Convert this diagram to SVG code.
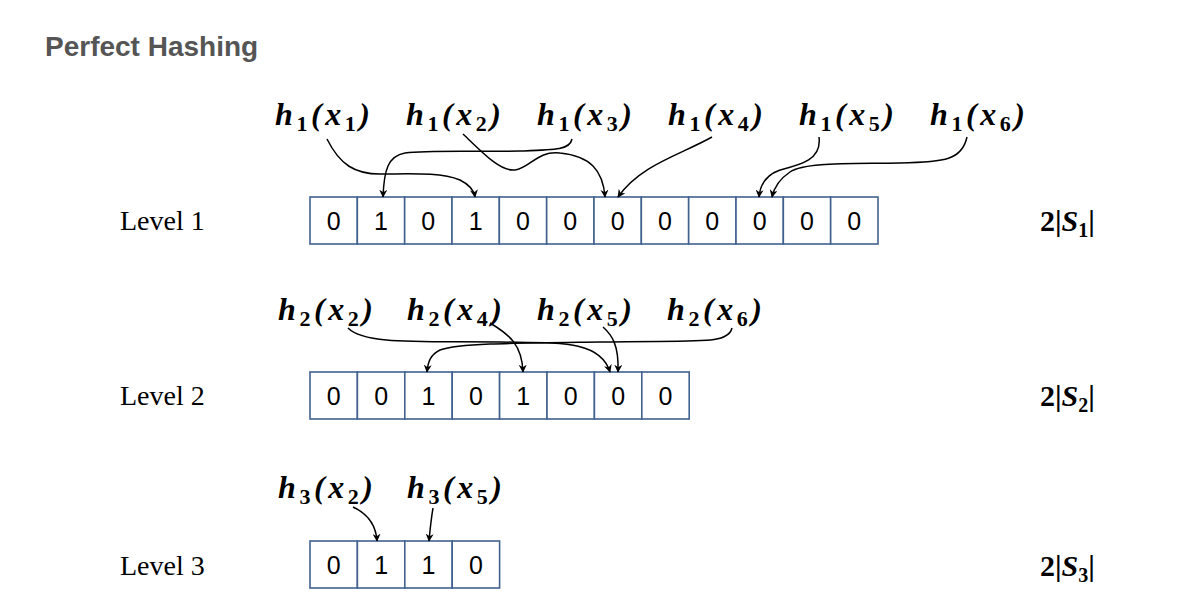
<svg xmlns="http://www.w3.org/2000/svg" width="1200" height="616" viewBox="0 0 1200 616">
<defs>
<marker id="ah" viewBox="0 0 10 10" refX="9" refY="5" markerWidth="8" markerHeight="8" orient="auto" markerUnits="userSpaceOnUse"><path d="M0,0 L10,5 L0,10 L3,5 z" fill="#000"/></marker>
<style>
.cell{fill:#fff;stroke:#41628F;stroke-width:1.6}
.d{font-family:"Liberation Sans",Arial,sans-serif;font-size:25px;text-anchor:middle;fill:#000}
.m{font-family:"Liberation Serif","DejaVu Serif",serif;font-size:32px;font-weight:bold;font-style:italic;fill:#000}
.s{font-size:22px;font-style:normal}
.lv{font-family:"Liberation Serif",serif;font-size:28px;fill:#000}
.sz{font-family:"Liberation Serif",serif;font-size:30px;font-weight:bold;fill:#000}
.c{fill:none;stroke:#000;stroke-width:1.5;marker-end:url(#ah)}
</style>
</defs>
<rect width="1200" height="616" fill="#fff"/>
<text x="45" y="56" font-family="Liberation Sans,Arial,sans-serif" font-size="28" font-weight="bold" fill="#555">Perfect Hashing</text>

<g id="level1">
<text class="lv" x="120" y="230">Level 1</text>
<g id="array1">
<rect class="cell" x="310" y="197" width="47.33" height="47"/><rect class="cell" x="357.33" y="197" width="47.33" height="47"/><rect class="cell" x="404.67" y="197" width="47.33" height="47"/><rect class="cell" x="452" y="197" width="47.33" height="47"/><rect class="cell" x="499.33" y="197" width="47.33" height="47"/><rect class="cell" x="546.67" y="197" width="47.33" height="47"/><rect class="cell" x="594" y="197" width="47.33" height="47"/><rect class="cell" x="641.33" y="197" width="47.33" height="47"/><rect class="cell" x="688.67" y="197" width="47.33" height="47"/><rect class="cell" x="736" y="197" width="47.33" height="47"/><rect class="cell" x="783.33" y="197" width="47.33" height="47"/><rect class="cell" x="830.67" y="197" width="47.33" height="47"/>
<text class="d" y="230"><tspan x="333.7">0</tspan><tspan x="381">1</tspan><tspan x="428.3">0</tspan><tspan x="475.7">1</tspan><tspan x="523">0</tspan><tspan x="570.3">0</tspan><tspan x="617.7">0</tspan><tspan x="665">0</tspan><tspan x="712.3">0</tspan><tspan x="759.7">0</tspan><tspan x="807">0</tspan><tspan x="854.3">0</tspan></text>
</g>
<text class="sz" x="1040" y="231">2|<tspan font-style="italic">S</tspan><tspan font-size="20" dy="6">1</tspan><tspan dy="-6">|</tspan></text>
<text class="m" x="275" y="125" textLength="95" lengthAdjust="spacing">h<tspan class="s" dy="6">1</tspan><tspan dy="-6">(x</tspan><tspan class="s" dy="6">1</tspan><tspan dy="-6">)</tspan></text>
<text class="m" x="406" y="125" textLength="95" lengthAdjust="spacing">h<tspan class="s" dy="6">1</tspan><tspan dy="-6">(x</tspan><tspan class="s" dy="6">2</tspan><tspan dy="-6">)</tspan></text>
<text class="m" x="537" y="125" textLength="95" lengthAdjust="spacing">h<tspan class="s" dy="6">1</tspan><tspan dy="-6">(x</tspan><tspan class="s" dy="6">3</tspan><tspan dy="-6">)</tspan></text>
<text class="m" x="668" y="125" textLength="95" lengthAdjust="spacing">h<tspan class="s" dy="6">1</tspan><tspan dy="-6">(x</tspan><tspan class="s" dy="6">4</tspan><tspan dy="-6">)</tspan></text>
<text class="m" x="799" y="125" textLength="95" lengthAdjust="spacing">h<tspan class="s" dy="6">1</tspan><tspan dy="-6">(x</tspan><tspan class="s" dy="6">5</tspan><tspan dy="-6">)</tspan></text>
<text class="m" x="930" y="125" textLength="95" lengthAdjust="spacing">h<tspan class="s" dy="6">1</tspan><tspan dy="-6">(x</tspan><tspan class="s" dy="6">6</tspan><tspan dy="-6">)</tspan></text>
</g>

<g id="level2">
<text class="lv" x="120" y="405">Level 2</text>
<g id="array2">
<rect class="cell" x="310" y="372" width="47.4" height="47"/><rect class="cell" x="357.4" y="372" width="47.4" height="47"/><rect class="cell" x="404.8" y="372" width="47.4" height="47"/><rect class="cell" x="452.2" y="372" width="47.4" height="47"/><rect class="cell" x="499.6" y="372" width="47.4" height="47"/><rect class="cell" x="547" y="372" width="47.4" height="47"/><rect class="cell" x="594.4" y="372" width="47.4" height="47"/><rect class="cell" x="641.8" y="372" width="47.4" height="47"/>
<text class="d" y="405"><tspan x="333.7">0</tspan><tspan x="381.1">0</tspan><tspan x="428.5">1</tspan><tspan x="475.9">0</tspan><tspan x="523.3">1</tspan><tspan x="570.7">0</tspan><tspan x="618.1">0</tspan><tspan x="665.5">0</tspan></text>
</g>
<text class="sz" x="1040" y="406">2|<tspan font-style="italic">S</tspan><tspan font-size="20" dy="6">2</tspan><tspan dy="-6">|</tspan></text>
<text class="m" x="278" y="320" textLength="95" lengthAdjust="spacing">h<tspan class="s" dy="6">2</tspan><tspan dy="-6">(x</tspan><tspan class="s" dy="6">2</tspan><tspan dy="-6">)</tspan></text>
<text class="m" x="407" y="320" textLength="95" lengthAdjust="spacing">h<tspan class="s" dy="6">2</tspan><tspan dy="-6">(x</tspan><tspan class="s" dy="6">4</tspan><tspan dy="-6">)</tspan></text>
<text class="m" x="537" y="320" textLength="95" lengthAdjust="spacing">h<tspan class="s" dy="6">2</tspan><tspan dy="-6">(x</tspan><tspan class="s" dy="6">5</tspan><tspan dy="-6">)</tspan></text>
<text class="m" x="667" y="320" textLength="95" lengthAdjust="spacing">h<tspan class="s" dy="6">2</tspan><tspan dy="-6">(x</tspan><tspan class="s" dy="6">6</tspan><tspan dy="-6">)</tspan></text>
</g>

<g id="level3">
<text class="lv" x="120" y="575">Level 3</text>
<g id="array3">
<rect class="cell" x="310" y="541" width="47.4" height="47"/><rect class="cell" x="357.4" y="541" width="47.4" height="47"/><rect class="cell" x="404.8" y="541" width="47.4" height="47"/><rect class="cell" x="452.2" y="541" width="47.4" height="47"/>
<text class="d" y="574"><tspan x="333.7">0</tspan><tspan x="381.1">1</tspan><tspan x="428.5">1</tspan><tspan x="475.9">0</tspan></text>
</g>
<text class="sz" x="1040" y="576">2|<tspan font-style="italic">S</tspan><tspan font-size="20" dy="6">3</tspan><tspan dy="-6">|</tspan></text>
<text class="m" x="278" y="498" textLength="95" lengthAdjust="spacing">h<tspan class="s" dy="6">3</tspan><tspan dy="-6">(x</tspan><tspan class="s" dy="6">2</tspan><tspan dy="-6">)</tspan></text>
<text class="m" x="407" y="498" textLength="95" lengthAdjust="spacing">h<tspan class="s" dy="6">3</tspan><tspan dy="-6">(x</tspan><tspan class="s" dy="6">5</tspan><tspan dy="-6">)</tspan></text>
</g>

<g id="connectors">
<path class="c" d="M327,139 C340,165 355,174 380,174 C410,174 440,172 460,180 C470,185 474,190 475,197"/>
<path class="c" d="M572,139 C570,150 555,150 520,151 C470,152 430,150 405,153 C388,156 384,170 383,197"/>
<path class="c" d="M463,134 C480,150 500,172 515,170 C530,168 538,150 560,153 C590,156 603,170 605,197"/>
<path class="c" d="M712,137 C680,155 640,165 618,197"/>
<path class="c" d="M819,137 C822,160 800,165 780,170 C766,175 760,185 759,197"/>
<path class="c" d="M967,137 C962,160 945,162 900,163 C850,164 805,162 790,172 C778,180 774,188 772,197"/>
<path class="c" d="M348,328 C365,345 420,341 500,342 C560,343 600,340 610,372"/>
<path class="c" d="M490,323 C510,335 522,345 523,372"/>
<path class="c" d="M603,327 C612,335 619,345 618,372"/>
<path class="c" d="M732,328 C728,345 700,340 600,342 C520,343 460,343 440,350 C430,355 428,362 427,372"/>
<path class="c" d="M353,507 C368,514 376,525 377,541"/>
<path class="c" d="M433,508 C431,520 430,530 429,541"/>
</g>
</svg>
